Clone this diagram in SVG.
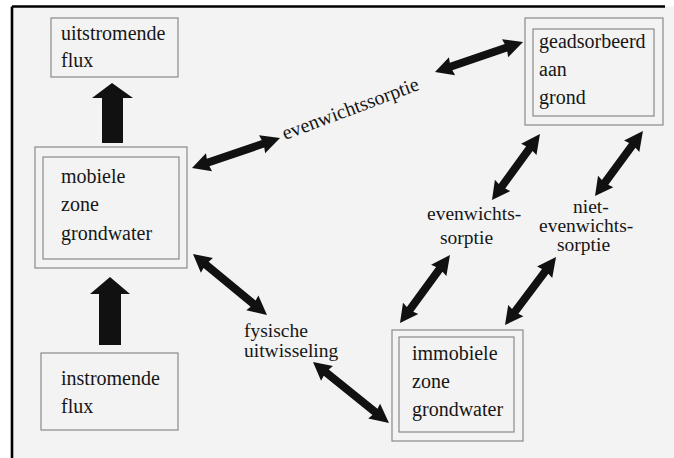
<svg xmlns="http://www.w3.org/2000/svg" width="674" height="458" viewBox="0 0 674 458">
<style>
  text { font-family: 'Liberation Serif', 'Times New Roman', 'DejaVu Serif', serif; fill: #161616; }
  .t { font-size: 20px; }
  .l { font-size: 19.5px; }
  .box { fill: none; stroke: #8a8a8a; stroke-width: 1.2; }
  .arr { fill: #111; }
</style>
<rect x="0" y="0" width="674" height="458" fill="#ffffff"/>
<rect x="12" y="6.5" width="662" height="452" fill="#f3f3f3"/>
<line x1="12" y1="6.5" x2="665" y2="6.5" stroke="#000" stroke-width="2.6"/>
<line x1="12" y1="6.5" x2="12" y2="458" stroke="#000" stroke-width="2.6"/>

<g id="uitstromende-flux">
  <rect class="box" x="51" y="18" width="127" height="59"/>
  <text class="t" x="61" y="40">uitstromende</text>
  <text class="t" x="61" y="67">flux</text>
</g>

<g id="mobiele-zone">
  <rect class="box" x="35" y="147" width="152" height="121"/>
  <rect class="box" x="43" y="157" width="136" height="102"/>
  <text class="t" x="61" y="183">mobiele</text>
  <text class="t" x="61" y="211">zone</text>
  <text class="t" x="61" y="240">grondwater</text>
</g>

<g id="instromende-flux">
  <rect class="box" x="41" y="353" width="137" height="77"/>
  <text class="t" x="61" y="385">instromende</text>
  <text class="t" x="61" y="413">flux</text>
</g>

<g id="geadsorbeerd">
  <rect class="box" x="525" y="18" width="138" height="107"/>
  <rect class="box" x="533" y="29" width="121" height="87"/>
  <text class="t" x="539" y="48">geadsorbeerd</text>
  <text class="t" x="539" y="76">aan</text>
  <text class="t" x="539" y="104">grond</text>
</g>

<g id="immobiele-zone">
  <rect class="box" x="392" y="330" width="131" height="111"/>
  <rect class="box" x="399" y="337" width="115" height="95"/>
  <text class="t" x="412" y="360">immobiele</text>
  <text class="t" x="412" y="388">zone</text>
  <text class="t" x="412" y="416">grondwater</text>
</g>

<g id="label-evenwichtssorptie">
  <text class="t" transform="translate(285 140) rotate(-20.5)">evenwichtssorptie</text>
</g>
<g id="label-evenwichts-sorptie">
  <text class="l" x="427" y="220">evenwichts-</text>
  <text class="l" x="440" y="244">sorptie</text>
</g>
<g id="label-niet-evenwichts-sorptie">
  <text class="l" x="573" y="213">niet-</text>
  <text class="l" x="539" y="232">evenwichts-</text>
  <text class="l" x="557" y="251">sorptie</text>
</g>
<g id="label-fysische-uitwisseling">
  <text class="l" x="244" y="337">fysische</text>
  <text class="l" x="244" y="357">uitwisseling</text>
</g>

<g id="connectors">
  <polygon class="arr" points="112,83 133,98 123,98 123,143 102,143 102,98 92,98"/>
  <polygon class="arr" points="110,277 130,294 121,294 121,345 99,345 99,294 90,294"/>

  <polygon class="arr" transform="translate(192 168) rotate(-18.8)" points="0,0 18,-9.5 17,-4 75,-4 74,-9.5 93,0 74,9.5 75,4 17,4 18,9.5"/>
  <polygon class="arr" transform="translate(435 72) rotate(-18.8)" points="0,0 18,-9.5 17,-4 75,-4 74,-9.5 93,0 74,9.5 75,4 17,4 18,9.5"/>
  <polygon class="arr" transform="translate(492 200) rotate(-54)" points="0,0 18,-9.5 17,-4 63.6,-4 62.6,-9.5 81.6,0 62.6,9.5 63.6,4 17,4 18,9.5"/>
  <polygon class="arr" transform="translate(595 196) rotate(-53.6)" points="0,0 18,-9.5 17,-4 62.8,-4 61.8,-9.5 80.8,0 61.8,9.5 62.8,4 17,4 18,9.5"/>
  <polygon class="arr" transform="translate(400 323) rotate(-53.7)" points="0,0 18,-9.5 17,-4 66.4,-4 65.4,-9.5 84.4,0 65.4,9.5 66.4,4 17,4 18,9.5"/>
  <polygon class="arr" transform="translate(505 325) rotate(-53.1)" points="0,0 18,-9.5 17,-4 67,-4 66,-9.5 85,0 66,9.5 67,4 17,4 18,9.5"/>
  <polygon class="arr" transform="translate(193 254) rotate(39.5)" points="0,0 18,-9.5 17,-4 77.9,-4 76.9,-9.5 95.9,0 76.9,9.5 77.9,4 17,4 18,9.5"/>
  <polygon class="arr" transform="translate(313 362) rotate(38.8)" points="0,0 18,-9.5 17,-4 79.5,-4 78.5,-9.5 97.5,0 78.5,9.5 79.5,4 17,4 18,9.5"/>
</g>
</svg>
